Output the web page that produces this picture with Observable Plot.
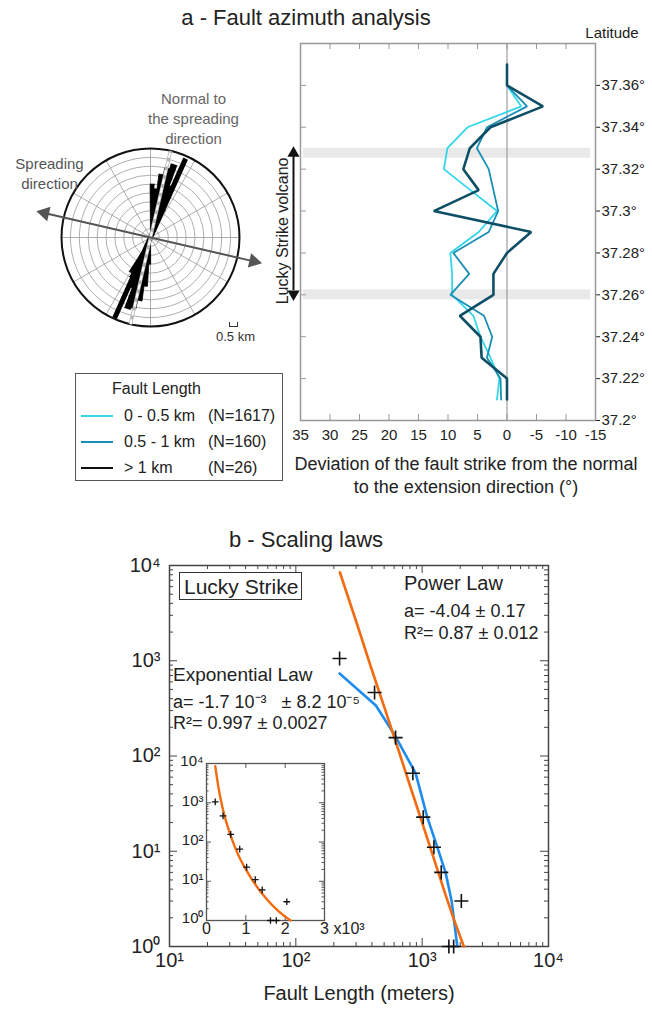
<!DOCTYPE html>
<html><head><meta charset="utf-8">
<script src="https://cdn.jsdelivr.net/npm/d3@7"></script>
<script src="https://cdn.jsdelivr.net/npm/@observablehq/plot@0.6"></script>
<style>
body{margin:0;background:#fff;font-family:"Liberation Sans",Arial,sans-serif;color:#222}
#root{position:relative;width:652px;height:1010px;overflow:hidden;background:#fff}
.abs{position:absolute;white-space:nowrap;line-height:1}
.plot{position:absolute}
</style></head><body><div id="root"></div>
<script>
// ---------------- DATA ----------------
// Panel a: deviation of fault strike (°) per latitude bin
const latitudes = [37.37, 37.36, 37.35, 37.34, 37.33, 37.32, 37.31, 37.30, 37.29, 37.28, 37.27, 37.26, 37.25, 37.24, 37.23, 37.22, 37.21];
const devShort  = [null, 0, -2.4, 6.7, 10.1, 10.7, 6.2, 1.7, 4.8, 9.6, 9.3, 9.3, 5.7, 4.5, 2.8, 1.3, 1.7];   // 0 - 0.5 km
const devMedium = [null, 0, -3.4, 3.4, 5.1, 3.1, 2.3, 1.5, 3.1, 9.1, 6.4, 9.6, 3.9, 2.5, 3.4, 1.1, 1.0];    // 0.5 - 1 km
const devLong   = [0, 0, -6.1, 2.8, 6.3, 7.4, 4.8, 12.4, -4.1, 0, 2.3, 2.3, 8.0, 4.5, 4.3, 0, 0];           // > 1 km
const seriesNames = ["0 - 0.5 km", "0.5 - 1 km", "> 1  km"];
const seriesCounts = ["(N=1617)", "(N=160)", "(N=26)"];
const xTicksA = [35, 30, 25, 20, 15, 10, 5, 0, -5, -10, -15];
const yTicksA = [37.2, 37.22, 37.24, 37.26, 37.28, 37.3, 37.32, 37.34, 37.36];
const grayBands = [{lo: 37.3252, hi: 37.3300}, {lo: 37.2576, hi: 37.2624}];
const volcanoExtent = {south: 37.258, north: 37.330, mid: 37.2905};

// Rose diagram: petal azimuth (deg) and relative length
const petalAz = [2, 6, 10, 14, 18, 22, 26, 182, 186, 190, 194, 198, 202, 206, 210];
const petalLen = [0.60, 0.55, 0.72, 0.80, 0.86, 0.62, 0.35, 0.30, 0.55, 0.72, 0.82, 0.84, 0.60, 0.50, 0.45];
const longFaultAz = 24;        // dominant strike of long faults
const normalAz = 13;           // normal to spreading direction
const spreadingAz = 103;       // spreading direction
const roseRings = [1, 2, 3, 4, 5, 6, 7, 8, 9, 10];
const roseSpokes = [0, 30, 60, 90, 120, 150, 180, 210, 240, 270, 300, 330];

// Panel b: cumulative number of faults vs fault length
const faultLength = [222, 420, 616, 844, 1020, 1239, 1416, 2042, 1627, 1775];
const faultCount  = [1057, 464, 156, 66, 22.8, 11.0, 6.0, 3.0, 1, 1];
const expFitL = [222, 430, 616, 887, 1097, 1320, 1531, 1711, 1897];
const expFitN = [735, 339, 160, 66, 22.8, 11, 6, 3, 1];
const powFitL = [223, 300, 400, 500, 650, 800, 1000, 1200, 1500, 1800, 2138];
const powFitN = [8500, 2600, 800, 330, 115, 49, 20, 9.5, 3.8, 1.85, 1];
const mainXTicks = [10, 100, 1000, 10000];
const mainXLabels = ["10¹", "10²", "10³", "10⁴"];
const mainYTicks = [1, 10, 100, 1000, 10000];
const mainYLabels = ["10⁰", "10¹", "10²", "10³", "10⁴"];
const insetXTicks = [0, 1000, 2000, 3000];
const insetXLabels = ["0", "1", "2", "3"];

// ---------------- STYLE ----------------
const FONT = '"Liberation Sans", Arial, sans-serif';
const colA = ["#34d6ea", "#1a8fb6", "#0f4f66"];
const widA = [1.8, 1.8, 2.6];
const legendCol = ["#34d6ea", "#1a8fb6", "#111"];
const BLUE = "#1f8ceb", ORANGE = "#f26b10";

const root = document.getElementById("root");
function label(text, x, y, size, anchor = "start", color = "#222", extra = "") {
  const d = document.createElement("div");
  d.className = "abs";
  d.textContent = text;
  const tx = anchor === "middle" ? "-50%" : anchor === "end" ? "-100%" : "0";
  d.style.cssText = `left:${x}px;top:${y}px;font-size:${size}px;color:${color};transform:translate(${tx},-50%);${extra}`;
  root.appendChild(d);
  return d;
}
function place(svg, left, top) {
  svg.classList.add("plot");
  svg.style.left = left + "px";
  svg.style.top = top + "px";
  root.appendChild(svg);
}

// ---------------- TITLES ----------------
label("a - Fault azimuth analysis", 306, 18, 22, "middle");
label("Latitude", 612, 32, 15, "middle");
label("b - Scaling laws", 306, 540, 22, "middle");

// ---------------- PANEL a : deviation ----------------
{
  const W = 397, H = 480, mL = 45, mR = 57, mT = 18, mB = 85;
  const fw = W - mL - mR, fh = H - mT - mB;
  const dev = [devShort, devMedium, devLong];
  const lineMarks = dev.map((vals, s) =>
    Plot.line(latitudes.map((lat, i) => ({lat, v: vals[i]})), {
      x: "v", y: "lat", stroke: colA[s], strokeWidth: widA[s], strokeLinejoin: "miter"
    }));
  const svg = Plot.plot({
    width: W, height: H, marginLeft: mL, marginRight: mR, marginTop: mT, marginBottom: mB,
    style: {fontFamily: FONT, fontSize: "15px", background: "transparent", color: "#222", overflow: "visible"},
    x: {domain: [35, -15], ticks: xTicksA, tickSize: 0, tickPadding: 9, tickFormat: d => String(d), label: null},
    y: {domain: [37.2, 37.38], axis: "right", ticks: yTicksA, tickSize: 4, tickPadding: 2,
        tickFormat: d => d3.format(".2~f")(d) + "°", label: null},
    marks: [
      Plot.rect(grayBands, {x1: 35, x2: -15, y1: "lo", y2: "hi", fill: "#e9e9e9", insetLeft: 3, insetRight: 5}),
      Plot.ruleX([0], {stroke: "#8a8a8a", strokeWidth: 1}),
      ...lineMarks,
      Plot.ruleX(xTicksA, {stroke: "#999", insetBottom: fh - 6}),
      Plot.ruleX(xTicksA, {stroke: "#999", insetTop: fh - 6}),
      Plot.ruleY(yTicksA, {stroke: "#999", insetRight: fw - 6}),
      Plot.frame({stroke: "#999", strokeWidth: 1.5}),
      Plot.ruleX([volcanoExtent], {x: 35, y1: d => d.south + 0.004, y2: d => d.north - 0.004, dx: -7, strokeWidth: 2, stroke: "#111"}),
      Plot.dot([volcanoExtent], {x: 35, y: d => d.north, dx: -7, dy: 5, symbol: "triangle", r: 4.5, fill: "#111", stroke: null}),
      Plot.dot([volcanoExtent], {x: 35, y: d => d.south, dx: -7, dy: -5, symbol: "triangle", rotate: 180, r: 4.5, fill: "#111", stroke: null}),
      Plot.text([volcanoExtent], {x: 35, y: d => d.mid, dx: -18, rotate: -90, text: () => "Lucky Strike volcano", fontSize: 16, fill: "#222"})
    ]
  });
  place(svg, 255, 25);
  label("Deviation of the fault strike from the normal", 466, 464, 18, "middle");
  label("to the extension direction (°)", 466, 487, 18, "middle");
}

// ---------------- ROSE DIAGRAM ----------------
{
  const W = 300, H = 280, k = 89;
  const rad = a => a * Math.PI / 180;
  const hw = 2.4;
  const petals = petalAz.flatMap((az, i) => [
    {i, x: 0, y: 0},
    {i, x: petalLen[i] * Math.sin(rad(az - hw)), y: petalLen[i] * Math.cos(rad(az - hw))},
    {i, x: petalLen[i] * Math.sin(rad(az + hw)), y: petalLen[i] * Math.cos(rad(az + hw))}
  ]);
  const cx = 150 / k, top = 157 / k, bot = (H - 157) / k;
  const ringMarks = roseRings.map(r => Plot.dot([r], {
    x: 0, y: 0, r: r * k / roseRings.length, fill: "none",
    stroke: r === roseRings.length ? "#111" : "#9a9a9a", strokeWidth: r === roseRings.length ? 2 : 0.8
  }));
  const svg = Plot.plot({
    width: W, height: H, margin: 0,
    style: {fontFamily: FONT, background: "transparent", overflow: "visible"},
    x: {domain: [-cx, cx], axis: null},
    y: {domain: [-bot, top], axis: null},
    marks: [
      Plot.dot([0], {x: 0, y: 0, r: k, fill: "white", stroke: null}),
      Plot.link(roseSpokes, {x1: 0, y1: 0, x2: a => Math.sin(rad(a)), y2: a => Math.cos(rad(a)), stroke: "#9a9a9a", strokeWidth: 0.8}),
      ...ringMarks,
      Plot.line(petals, {x: "x", y: "y", z: "i", fill: "#000", stroke: "#000", strokeWidth: 0.8}),
      Plot.link([longFaultAz], {x1: a => -0.99 * Math.sin(rad(a)), y1: a => -0.99 * Math.cos(rad(a)),
        x2: a => 0.97 * Math.sin(rad(a)), y2: a => 0.97 * Math.cos(rad(a)), stroke: "#000", strokeWidth: 5}),
      Plot.link([normalAz], {x1: a => -Math.sin(rad(a)), y1: a => -Math.cos(rad(a)),
        x2: a => Math.sin(rad(a)), y2: a => Math.cos(rad(a)), stroke: "#b5b5b5", strokeWidth: 3.5}),
      Plot.link([normalAz], {x1: a => -Math.sin(rad(a)), y1: a => -Math.cos(rad(a)),
        x2: a => Math.sin(rad(a)), y2: a => Math.cos(rad(a)), stroke: "#fff", strokeWidth: 2, strokeDasharray: "5,4"}),
      Plot.link([spreadingAz], {x1: a => -1.2 * Math.sin(rad(a)), y1: a => -1.2 * Math.cos(rad(a)),
        x2: a => 1.18 * Math.sin(rad(a)), y2: a => 1.18 * Math.cos(rad(a)), stroke: "#555", strokeWidth: 2}),
      Plot.dot([spreadingAz], {x: a => 1.19 * Math.sin(rad(a)), y: a => 1.19 * Math.cos(rad(a)), symbol: "triangle",
        rotate: a => a, r: 5.5, fill: "#555", stroke: null}),
      Plot.dot([spreadingAz], {x: a => -1.22 * Math.sin(rad(a)), y: a => -1.22 * Math.cos(rad(a)), symbol: "triangle",
        rotate: a => a + 180, r: 5.5, fill: "#555", stroke: null}),
      Plot.text(["Normal to\nthe spreading\ndirection"], {x: 43 / k, y: (237 - 117) / k, text: d => d, fontSize: 15, lineHeight: 1.33, fill: "#666"}),
      Plot.text(["Spreading\ndirection"], {x: (49 - 150) / k, y: (237 - 172) / k, text: d => d, fontSize: 15, lineHeight: 1.33, fill: "#555"}),
      Plot.text(["0.5 km"], {x: (235 - 150) / k, y: (237 - 336) / k, text: d => d, fontSize: 13, fill: "#333"})
    ]
  });
  place(svg, 0, 80);
  const sb = document.createElement("div");
  sb.className = "abs";
  sb.style.cssText = "left:229px;top:322px;width:7px;height:4px;border:1.3px solid #333;border-top:none";
  root.appendChild(sb);
}

// ---------------- LEGEND ----------------
{
  const box = document.createElement("div");
  box.className = "abs";
  box.style.cssText = "left:75px;top:373px;width:206px;height:106px;border:1.3px solid #555;background:#fff";
  root.appendChild(box);
  label("Fault Length", 112, 389, 16);
  const rows = [416, 442, 468];
  seriesNames.forEach((name, i) => {
    const ln = document.createElement("div");
    ln.className = "abs";
    ln.style.cssText = `left:81px;top:${rows[i] - 1}px;width:32px;height:2px;background:${legendCol[i]}`;
    root.appendChild(ln);
    label(name, 124, rows[i], 16);
    label(seriesCounts[i], 208, rows[i], 16);
  });
}

// ---------------- PANEL b : main log-log ----------------
{
  const W = 552, H = 455, mL = 69, mR = 104, mT = 10, mB = 64;
  const fw = W - mL - mR, fh = H - mT - mB;
  const minorX = [10, 100, 1000].flatMap(d => d3.range(2, 10).map(m => m * d));
  const minorY = [1, 10, 100, 1000].flatMap(d => d3.range(2, 10).map(m => m * d));
  const pts = faultLength.map((L, i) => ({L, N: faultCount[i]}));
  const expFit = expFitL.map((L, i) => ({L, N: expFitN[i]}));
  const powFit = powFitL.map((L, i) => ({L, N: powFitN[i]}));
  const tick = "#444";
  const svg = Plot.plot({
    width: W, height: H, marginLeft: mL, marginRight: mR, marginTop: mT, marginBottom: mB,
    style: {fontFamily: FONT, background: "transparent", color: "#222", overflow: "visible"},
    x: {type: "log", domain: [10, 1e4], axis: null},
    y: {type: "log", domain: [1, 1e4], axis: null},
    marks: [
      Plot.ruleX(mainXTicks, {stroke: tick, insetTop: fh - 8}),
      Plot.ruleX(mainXTicks, {stroke: tick, insetBottom: fh - 8}),
      Plot.ruleX(minorX, {stroke: tick, insetTop: fh - 4}),
      Plot.ruleX(minorX, {stroke: tick, insetBottom: fh - 4}),
      Plot.ruleY(mainYTicks, {stroke: tick, insetRight: fw - 8}),
      Plot.ruleY(mainYTicks, {stroke: tick, insetLeft: fw - 8}),
      Plot.ruleY(minorY, {stroke: tick, insetRight: fw - 4}),
      Plot.ruleY(minorY, {stroke: tick, insetLeft: fw - 4}),
      Plot.frame({stroke: "#444", strokeWidth: 1.5}),
      Plot.text(mainXTicks, {x: d => d, frameAnchor: "bottom", dy: 20, text: (d, i) => mainXLabels[i], fontSize: 20}),
      Plot.text(mainYTicks, {y: d => d, frameAnchor: "left", dx: -9, textAnchor: "end", text: (d, i) => mainYLabels[i], fontSize: 20}),
      Plot.text(["Fault Length (meters)"], {frameAnchor: "bottom", dy: 53, text: d => d, fontSize: 20}),
      Plot.line(expFit, {x: "L", y: "N", stroke: BLUE, strokeWidth: 2.6}),
      Plot.line(powFit, {x: "L", y: "N", stroke: ORANGE, strokeWidth: 2.6}),
      Plot.dot(pts, {x: "L", y: "N", symbol: "plus", r: 4.6, stroke: "#111", strokeWidth: 1.6})
    ]
  });
  place(svg, 100, 555);

  const lb = document.createElement("div");
  lb.className = "abs";
  lb.style.cssText = "left:179px;top:572px;width:121px;height:26px;border:1.2px solid #333";
  root.appendChild(lb);
  label("Lucky Strike", 184, 586, 21);
  label("Power Law", 404, 583, 20);
  label("a= -4.04 ± 0.17", 404, 611, 18);
  label("R²= 0.87 ± 0.012", 404, 633, 18);
  label("Exponential Law", 173, 674, 19);
  label("a= -1.7 10⁻³   ± 8.2 10⁻⁵", 173, 702, 18, "start", "#222", "white-space:pre");
  label("R²= 0.997 ± 0.0027", 173, 723, 18);
}

// ---------------- INSET ----------------
{
  const W = 220, H = 200, mL = 46, mR = 56, mT = 13, mB = 30;
  const fw = W - mL - mR, fh = H - mT - mB;
  const minorY = [1, 10, 100, 1000].flatMap(d => d3.range(2, 10).map(m => m * d));
  const pts = faultLength.map((L, i) => ({L, N: faultCount[i]}));
  const powFit = powFitL.map((L, i) => ({L, N: powFitN[i]}));
  const tick = "#555";
  const svg = Plot.plot({
    width: W, height: H, marginLeft: mL, marginRight: mR, marginTop: mT, marginBottom: mB,
    style: {fontFamily: FONT, background: "transparent", color: "#222", overflow: "visible"},
    x: {domain: [0, 3000], axis: null},
    y: {type: "log", domain: [1, 1e4], axis: null},
    marks: [
      Plot.frame({fill: "white", stroke: null}),
      Plot.ruleX(insetXTicks, {stroke: tick, insetTop: fh - 5}),
      Plot.ruleX(insetXTicks, {stroke: tick, insetBottom: fh - 5}),
      Plot.ruleY(mainYTicks, {stroke: tick, insetRight: fw - 5}),
      Plot.ruleY(mainYTicks, {stroke: tick, insetLeft: fw - 5}),
      Plot.ruleY(minorY, {stroke: tick, insetRight: fw - 2.5}),
      Plot.ruleY(minorY, {stroke: tick, insetLeft: fw - 2.5}),
      Plot.frame({stroke: "#555", strokeWidth: 1.3}),
      Plot.text(insetXTicks, {x: d => d, frameAnchor: "bottom", dy: 13, text: (d, i) => insetXLabels[i], fontSize: 16}),
      Plot.text(["x10³"], {frameAnchor: "bottom-right", dx: 9, dy: 13, textAnchor: "start", text: d => d, fontSize: 16}),
      Plot.text(mainYTicks, {y: d => d, frameAnchor: "left", dx: -3, dy: -2, textAnchor: "end", text: (d, i) => mainYLabels[i], fontSize: 15}),
      Plot.line(powFit, {x: "L", y: "N", stroke: ORANGE, strokeWidth: 2.4, curve: "monotone-x"}),
      Plot.dot(pts, {x: "L", y: "N", symbol: "plus", r: 2.3, stroke: "#111", strokeWidth: 1.3})
    ]
  });
  place(svg, 160, 750);
}
</script></body></html>
